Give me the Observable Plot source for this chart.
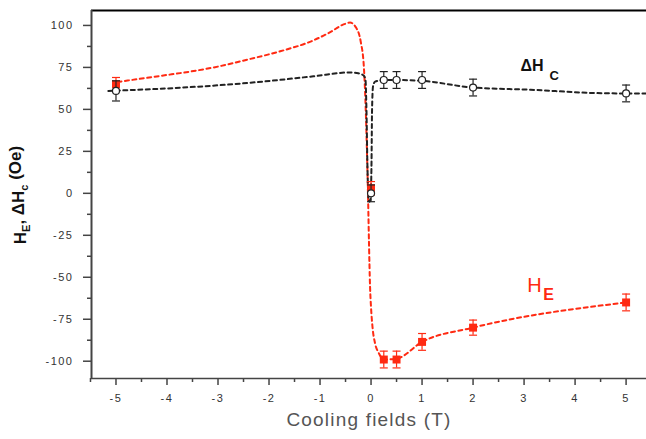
<!DOCTYPE html>
<html><head><meta charset="utf-8">
<script src="https://cdn.jsdelivr.net/npm/d3@7"></script>
<script src="https://cdn.jsdelivr.net/npm/@observablehq/plot@0.6"></script>
<style>
body{margin:0;background:#fff;}
svg text{font-family:"Liberation Sans",Arial,sans-serif;}
.ticklbl text{letter-spacing:1.5px;}
</style></head><body><div id="chart"></div>
<script>
// Measured points
const fields    = [-5, 0, 0.25, 0.5, 1, 2, 5];
const heValues  = [65, 3, -99, -99, -88.5, -80, -65];
const heErrors  = [4, 4, 5, 5, 5, 4.5, 5];
const dhcValues = [61, 0, 67.5, 67.5, 67.5, 63, 59.5];
const dhcErrors = [6, 5, 5, 5, 5, 5, 5];

// Guide-to-the-eye curves
const heFitX  = [-4.97, -4, -3.74, -3, -2.43, -1.78, -1.13, -0.8, -0.54, -0.41, -0.3, -0.2, -0.14, -0.11, -0.08, -0.06, -0.04, -0.02, 0.0, 0.03, 0.08, 0.15, 0.25, 0.5, 1, 2, 5];
const heFitY  = [66.3, 70.5, 71.6, 75.5, 79.6, 84.6, 91.1, 96, 100.6, 101.7, 99, 90, 75, 55, 25, 0, -30, -55, -68, -80, -89.5, -95, -99, -98.5, -88.5, -80, -65];
const dhcFitX = [-5.15, -3.74, -2.43, -1.13, -0.42, -0.25, -0.15, -0.11, -0.09, -0.07, -0.05, -0.03, -0.01, 0.01, 0.02, 0.04, 0.08, 0.25, 0.5, 1, 2, 3.13, 4.43, 5, 5.45];
const dhcFitY = [61, 62.9, 65.7, 69.7, 72, 71.5, 70.3, 68, 50, 15, -3, -5, -3, 20, 50, 64, 66.5, 67.5, 67.5, 67, 63, 61.7, 59.7, 59.5, 59.5];

const xTicks = [-5, -4, -3, -2, -1, 0, 1, 2, 3, 4, 5];
const xMinorTicks = [-5.5, -4.5, -3.5, -2.5, -1.5, -0.5, 0.5, 1.5, 2.5, 3.5, 4.5];
const yTicks = [-100, -75, -50, -25, 0, 25, 50, 75, 100];
const yMinorTicks = [-87.5, -62.5, -37.5, -12.5, 12.5, 37.5, 62.5, 87.5];
const xDomain = [-5.48, 5.4];
const yDomain = [-110.3, 108.9];

const xLabel = "Cooling fields (T)";
const heLabel = ["H", "E"];
const dhcLabel = ["\u0394H", "C"];

const he = fields.map((x, i) => ({x, y: heValues[i], e: heErrors[i]}));
const dhc = fields.map((x, i) => ({x, y: dhcValues[i], e: dhcErrors[i]}));
const heFit = heFitX.map((x, i) => ({x, y: heFitY[i]}));
const dhcFit = dhcFitX.map((x, i) => ({x, y: dhcFitY[i]}));

const RED = "#ff2a12", BLK = "#222";
const cap = {draw(ctx) { ctx.moveTo(-4, 0); ctx.lineTo(4, 0); }};

const plot = Plot.plot({
  width: 646, height: 439,
  marginLeft: 91, marginRight: 0, marginTop: 10, marginBottom: 61,
  style: {background: "#fff", fontFamily: "Liberation Sans, Arial, sans-serif"},
  x: {domain: xDomain},
  y: {domain: yDomain},
  marks: [
    Plot.axisX({ticks: xTicks, tickSize: 7, tickPadding: 9, tickFormat: d => String(d), stroke: "#444", strokeWidth: 1.5, fill: "#333", fontSize: 11, label: null, className: "ticklbl"}),
    Plot.axisX({ticks: xMinorTicks, tickSize: 4, tickFormat: () => "", stroke: "#444", strokeWidth: 1.5, label: null}),
    Plot.axisY({ticks: yTicks, tickSize: 8, tickPadding: 10, tickFormat: d => String(d), stroke: "#444", strokeWidth: 1.5, fill: "#333", fontSize: 11, label: null, className: "ticklbl"}),
    Plot.axisY({ticks: yMinorTicks, tickSize: 4, tickFormat: () => "", stroke: "#444", strokeWidth: 1.5, label: null}),
    Plot.ruleY([yDomain[1]], {stroke: "#000", strokeWidth: 2}),
    Plot.ruleY([yDomain[0]], {stroke: "#444", strokeWidth: 1.5}),
    Plot.ruleX([xDomain[0]], {stroke: "#444", strokeWidth: 2}),
    Plot.line(heFit, {x: "x", y: "y", curve: "monotone-x", stroke: RED, strokeWidth: 2, strokeDasharray: "4,3.5"}),
    Plot.line(dhcFit, {x: "x", y: "y", curve: "monotone-x", stroke: BLK, strokeWidth: 2, strokeDasharray: "4,3.5", clip: true}),
    Plot.ruleX(he, {x: "x", y1: d => d.y - d.e, y2: d => d.y + d.e, stroke: RED, strokeWidth: 1.2}),
    Plot.dot(he, {x: "x", y: d => d.y - d.e, symbol: cap, stroke: RED, strokeWidth: 1.2, r: 4}),
    Plot.dot(he, {x: "x", y: d => d.y + d.e, symbol: cap, stroke: RED, strokeWidth: 1.2, r: 4}),
    Plot.dot(he, {x: "x", y: "y", symbol: "square", fill: RED, r: 4.5}),
    Plot.ruleX(dhc, {x: "x", y1: d => d.y - d.e, y2: d => d.y + d.e, stroke: BLK, strokeWidth: 1.2}),
    Plot.dot(dhc, {x: "x", y: d => d.y - d.e, symbol: cap, stroke: BLK, strokeWidth: 1.2, r: 4}),
    Plot.dot(dhc, {x: "x", y: d => d.y + d.e, symbol: cap, stroke: BLK, strokeWidth: 1.2, r: 4}),
    Plot.dot(dhc, {x: "x", y: "y", symbol: "circle", fill: "#fff", stroke: BLK, strokeWidth: 1.2, r: 3.5}),
    Plot.text([heLabel[0]], {x: 3.06, y: -55, text: d => d, fill: RED, fontSize: 20, textAnchor: "start"}),
    Plot.text([heLabel[1]], {x: 3.06, y: -55, text: d => d, fill: RED, fontSize: 16, fontWeight: "bold", textAnchor: "start", dx: 16, dy: 9}),
    Plot.text([dhcLabel[0]], {x: 2.93, y: 76, text: d => d, fill: "#111", fontSize: 16, fontWeight: "bold", textAnchor: "start"}),
    Plot.text([dhcLabel[1]], {x: 2.93, y: 76, text: d => d, fill: "#111", fontSize: 13, fontWeight: "bold", textAnchor: "start", dx: 29, dy: 10}),
    Plot.text([xLabel], {frameAnchor: "bottom", text: d => d, dy: 47, fontSize: 19, fill: "#555", className: "xlbl"})
  ]
});
document.getElementById("chart").append(plot);

d3.select(plot).selectAll(".xlbl text").style("letter-spacing", "1.2px");
const yt = d3.select(plot).append("text")
  .attr("transform", "translate(26,195) rotate(-90)")
  .attr("text-anchor", "middle")
  .style("font-size", "17px").style("font-weight", "bold").attr("fill", "#111");
yt.append("tspan").text("H");
yt.append("tspan").text("E").style("font-size", "11px").attr("dy", "0.4em");
yt.append("tspan").text(", \u0394H").attr("dy", "-0.4em");
yt.append("tspan").text("c").style("font-size", "11px").attr("dy", "0.4em");
yt.append("tspan").text(" (Oe)").attr("dy", "-0.4em");
</script></body></html>
